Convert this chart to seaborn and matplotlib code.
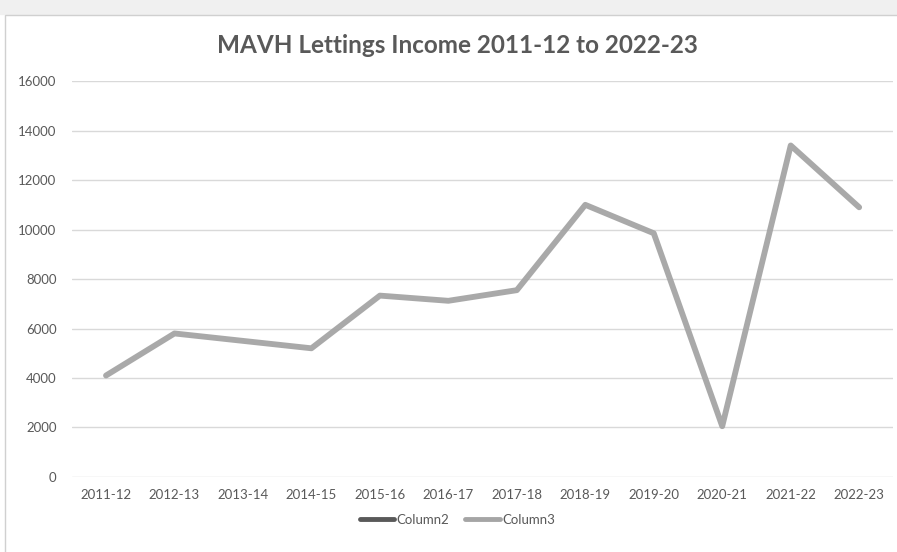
import numpy as np
import pandas as pd
import seaborn as sns
import matplotlib.pyplot as plt
from matplotlib.lines import Line2D
from matplotlib.patches import Rectangle

# data
years = ['2011-12', '2012-13', '2013-14', '2014-15', '2015-16', '2016-17',
         '2017-18', '2018-19', '2019-20', '2020-21', '2021-22', '2022-23']
column3 = [4100, 5800, 5500, 5200, 7330, 7120, 7550, 11000, 9850, 2050, 13400, 10900]

df = pd.DataFrame({'Year': years, 'Column3': column3})

sns.set_style('white')
plt.rcParams['font.family'] = ['Lato', 'DejaVu Sans']

fig = plt.figure(figsize=(8.97, 5.52), dpi=100)
ax = fig.add_axes([0.08, 0.136, 0.916, 0.717])

sns.lineplot(data=df, x='Year', y='Column3', ax=ax, color='#a5a5a5',
             linewidth=4.2, sort=False, alpha=0.95)

ax.set_ylim(0, 16000)
ax.set_yticks(np.arange(0, 16001, 2000))
ax.set_xlim(-0.5, len(years) - 0.5)
ax.yaxis.grid(True, color='#d9d9d9', linewidth=1)
ax.xaxis.grid(False)
for s in ax.spines.values():
    s.set_visible(False)
ax.tick_params(axis='both', length=0, labelsize=9.5, colors='#595959')
ax.tick_params(axis='x', pad=9)
ax.tick_params(axis='y', pad=11)
ax.set_xlabel('')
ax.set_ylabel('')

fig.text(0.51, 0.918, 'MAVH Lettings Income 2011-12 to 2022-23', ha='center', va='center',
         fontsize=17.5, fontweight='bold', color='#595959')

handles = [Line2D([0], [0], color='#595959', linewidth=3.5),
           Line2D([0], [0], color='#a5a5a5', linewidth=3.5)]
fig.legend(handles, ['Column2', 'Column3'], loc='center', bbox_to_anchor=(0.51, 0.058),
           ncol=2, frameon=False, fontsize=9.5, labelcolor='#595959',
           handlelength=2.6, handletextpad=0.2, columnspacing=1.2)

# spreadsheet frame around the chart
fig.patches.append(Rectangle((0, 0.975), 1, 0.025, transform=fig.transFigure,
                             color='#f0f0f0', zorder=0))
fig.patches.append(Rectangle((0.006, -0.01), 1.0, 0.982, transform=fig.transFigure,
                             fill=False, edgecolor='#d0d0d0', linewidth=1, zorder=1))

fig.savefig('out.png', dpi=100)
